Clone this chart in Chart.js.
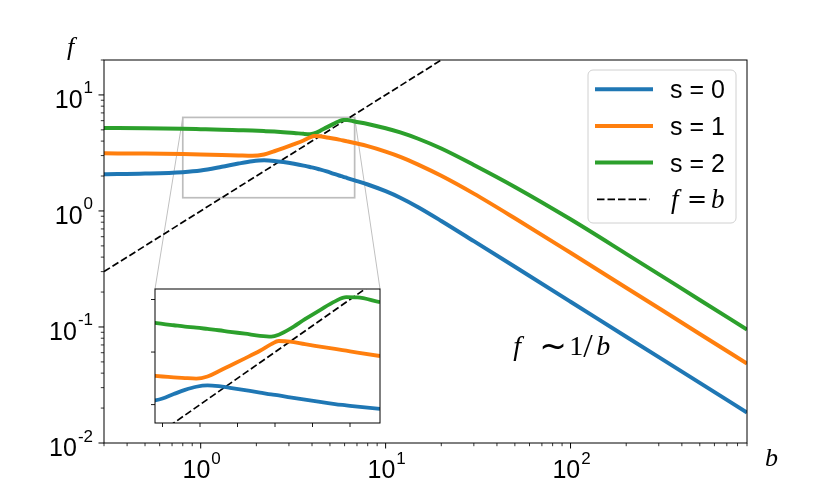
<!DOCTYPE html>
<html>
<head>
<meta charset="utf-8">
<script src="https://cdn.jsdelivr.net/npm/chart.js@4/dist/chart.umd.min.js"></script>
<style>
  html, body { margin: 0; padding: 0; background: #fff; }
  #wrap { position: relative; width: 830px; height: 498px; overflow: hidden; }
  #main { position: absolute; left: 0; top: 0; }
  #inset { position: absolute; left: 140px; top: 280px; }
</style>
</head>
<body>
<div id="wrap">
  <canvas id="main" width="830" height="498"></canvas>
  <canvas id="inset" width="250" height="155"></canvas>
</div>
<script>
// ---- data ----
const bValues = [0.3, 0.5, 0.8, 1.0, 1.3, 1.6, 1.9, 2.2, 2.5, 2.8, 3.2, 3.6, 3.9, 4.1, 4.4, 4.8,
                 5.2, 5.6, 5.9, 6.2, 6.8, 8, 10, 12, 15, 20, 30, 50, 100, 200, 500, 900];
const fS0 = [2.07, 2.10, 2.16, 2.23, 2.40, 2.56, 2.68, 2.73, 2.70, 2.64, 2.55, 2.46, 2.39, 2.35, 2.28, 2.19,
             2.10, 2.02, 1.97, 1.92, 1.835, 1.69, 1.48, 1.30, 1.077, 0.82, 0.549, 0.33, 0.165, 0.0824, 0.033, 0.0183];
const fS1 = [3.14, 3.12, 3.09, 3.07, 3.04, 3.01, 2.99, 3.07, 3.27, 3.48, 3.76, 4.05, 4.30, 4.42, 4.40, 4.30,
             4.21, 4.12, 4.05, 3.98, 3.85, 3.62, 3.25, 2.93, 2.51, 2.01, 1.41, 0.865, 0.436, 0.218, 0.0871, 0.0484];
const fS2 = [5.18, 5.16, 5.11, 5.07, 5.02, 4.97, 4.93, 4.88, 4.83, 4.77, 4.70, 4.62, 4.59, 4.66, 4.88, 5.25,
             5.60, 5.93, 6.09, 6.08, 5.90, 5.62, 5.16, 4.75, 4.19, 3.45, 2.49, 1.61, 0.847, 0.427, 0.171, 0.095];
const bDiag = [0.3, 20];          // f = b reference line
const seriesLabels = ['s = 0', 's = 1', 's = 2'];
const seriesColors = ['#1f77b4', '#ff7f0e', '#2ca02c'];

const xRange = [0.3, 900];
const yRange = [0.01, 20];
const xMajorTicks = [1, 10, 100];
const xMajorLabels = [['10', '0'], ['10', '1'], ['10', '2']];
const xMinorTicks = [0.3, 0.4, 0.5, 0.6, 0.7, 0.8, 0.9, 2, 3, 4, 5, 6, 7, 8, 9,
                     20, 30, 40, 50, 60, 70, 80, 90, 200, 300, 400, 500, 600, 700, 800, 900];
const yMajorTicks = [0.01, 0.1, 1, 10];
const yMajorLabels = [['10', '-2'], ['10', '-1'], ['10', '0'], ['10', '1']];
const yMinorTicks = [0.02, 0.03, 0.04, 0.05, 0.06, 0.07, 0.08, 0.09, 0.2, 0.3, 0.4, 0.5, 0.6, 0.7, 0.8, 0.9,
                     2, 3, 4, 5, 6, 7, 8, 9, 20];

// zoomed window
const insetXRange = [0.8, 6.8];
const insetYRange = [1.3, 6.4];
const insetXTicks = [1, 2, 3, 4, 5, 6];
const insetYTicks = [2, 4, 6];

const SANS = '"Liberation Sans", Arial, sans-serif';
const SERIF = '"Liberation Serif", "DejaVu Serif", serif';
const SYM = '"DejaVu Sans", sans-serif';
const INSET_BOX = { left: 155, top: 289, width: 225, height: 134 };

const pts = (ys) => bValues.map((b, i) => ({ x: b, y: ys[i] }));
const diagPts = bDiag.map(b => ({ x: b, y: b }));

function makeDatasets(lw) {
    const curves = [fS0, fS1, fS2].map((ys, i) => ({
        label: seriesLabels[i],
        data: pts(ys),
        borderColor: seriesColors[i],
        borderWidth: lw,
        pointRadius: 0,
        cubicInterpolationMode: 'monotone',
        fill: false,
        clip: 0
    }));
    curves.push({
        label: 'f = b',
        data: diagPts,
        borderColor: '#000',
        borderWidth: 1.7,
        borderDash: [7, 3],
        pointRadius: 0,
        fill: false,
        clip: 0
    });
    return curves;
}

function drawTick(ctx, x0, y0, x1, y1, w) {
    ctx.lineWidth = w;
    ctx.beginPath();
    ctx.moveTo(x0, y0);
    ctx.lineTo(x1, y1);
    ctx.stroke();
}

// "10" with a raised exponent; align = 'center' or 'right'
function drawPower(ctx, base, exp, x, baseline, align) {
    ctx.font = '25px ' + SANS;
    const wb = ctx.measureText(base).width;
    ctx.font = '17px ' + SANS;
    const we = ctx.measureText(exp).width;
    const total = wb + we + 1;
    const start = align === 'center' ? x - total / 2 : x - total;
    ctx.textAlign = 'left';
    ctx.textBaseline = 'alphabetic';
    ctx.font = '25px ' + SANS;
    ctx.fillText(base, start, baseline);
    ctx.font = '17px ' + SANS;
    ctx.fillText(exp, start + wb + 1, baseline - 14.5);
}

function italic(ctx, s, x, y, size) {
    ctx.font = 'italic ' + size + 'px ' + SERIF;
    ctx.fillText(s, x, y);
}
function upright(ctx, s, x, y, size, family) {
    ctx.font = size + 'px ' + (family || SERIF);
    ctx.fillText(s, x, y);
}

const mainDecor = {
    id: 'mainDecor',
    beforeDatasetsDraw(chart) {
        const { ctx, scales: { x, y } } = chart;
        const x0 = x.getPixelForValue(insetXRange[0]);
        const x1 = x.getPixelForValue(insetXRange[1]);
        const y0 = y.getPixelForValue(insetYRange[1]);
        const y1 = y.getPixelForValue(insetYRange[0]);
        ctx.save();
        ctx.strokeStyle = '#c0c0c0';
        ctx.lineWidth = 1;
        ctx.beginPath();
        ctx.moveTo(x0, y0);
        ctx.lineTo(INSET_BOX.left, INSET_BOX.top);
        ctx.moveTo(x1, y0);
        ctx.lineTo(INSET_BOX.left + INSET_BOX.width, INSET_BOX.top);
        ctx.stroke();
        ctx.lineWidth = 1.7;
        ctx.strokeStyle = '#bdbdbd';
        ctx.strokeRect(x0, y0, x1 - x0, y1 - y0);
        ctx.restore();
    },
    afterDraw(chart) {
        const { ctx, chartArea: a, scales: { x, y } } = chart;
        ctx.save();
        ctx.strokeStyle = '#000';
        ctx.fillStyle = '#000';
        ctx.lineWidth = 1;
        ctx.strokeRect(a.left, a.top, a.right - a.left, a.bottom - a.top);

        xMajorTicks.forEach((v, i) => {
            const px = x.getPixelForValue(v);
            drawTick(ctx, px, a.bottom, px, a.bottom + 5.5, 1);
            drawPower(ctx, xMajorLabels[i][0], xMajorLabels[i][1], px + 1, a.bottom + 35, 'center');
        });
        xMinorTicks.forEach(v => {
            const px = x.getPixelForValue(v);
            drawTick(ctx, px, a.bottom, px, a.bottom + 3.2, 0.8);
        });
        yMajorTicks.forEach((v, i) => {
            const py = y.getPixelForValue(v);
            drawTick(ctx, a.left - 5.5, py, a.left, py, 1);
            drawPower(ctx, yMajorLabels[i][0], yMajorLabels[i][1], a.left - 11, py + 13, 'right');
        });
        yMinorTicks.forEach(v => {
            const py = y.getPixelForValue(v);
            drawTick(ctx, a.left - 3.2, py, a.left, py, 0.8);
        });

        // axis labels
        ctx.textAlign = 'left';
        ctx.textBaseline = 'alphabetic';
        italic(ctx, 'f', 67, 55, 26);
        italic(ctx, 'b', 765, 466, 26);

        // asymptote note, anchored in data space
        const nx = x.getPixelForValue(49);
        const ny = y.getPixelForValue(0.057);
        italic(ctx, 'f', nx, ny, 28);
        upright(ctx, '~', nx + 26, ny + 2, 33, SYM);
        upright(ctx, '1', nx + 56, ny, 28);
        upright(ctx, '/', nx + 70, ny + 2, 34);
        italic(ctx, 'b', nx + 83, ny, 28);

        // legend
        const lx = a.right - 159, ly = a.top + 10, lw = 148, lh = 153;
        ctx.beginPath();
        ctx.roundRect(lx, ly, lw, lh, 5);
        ctx.fillStyle = 'rgba(255,255,255,0.85)';
        ctx.fill();
        ctx.strokeStyle = '#d0d0d0';
        ctx.lineWidth = 1;
        ctx.stroke();
        const rowY = [19.3, 56, 92.6, 129.3];
        ctx.fillStyle = '#000';
        seriesLabels.forEach((lab, i) => {
            const ry = ly + rowY[i];
            ctx.strokeStyle = seriesColors[i];
            drawTick(ctx, lx + 7, ry, lx + 65, ry, 4);
            ctx.font = '25px ' + SANS;
            ctx.fillText(lab, lx + 82, ry + 9);
        });
        const ry = ly + rowY[3];
        ctx.strokeStyle = '#000';
        ctx.setLineDash([7.5, 3]);
        drawTick(ctx, lx + 9, ry, lx + 62, ry, 1.7);
        ctx.setLineDash([]);
        italic(ctx, 'f', lx + 83, ry + 9, 27);
        upright(ctx, '=', lx + 99, ry + 8, 24, SYM);
        italic(ctx, 'b', lx + 123, ry + 9, 27);
        ctx.restore();
    }
};

const insetDecor = {
    id: 'insetDecor',
    beforeDraw(chart) {
        const { ctx, chartArea: a } = chart;
        ctx.save();
        ctx.fillStyle = '#fff';
        ctx.fillRect(a.left, a.top, a.right - a.left, a.bottom - a.top);
        ctx.restore();
    },
    afterDraw(chart) {
        const { ctx, chartArea: a, scales: { x, y } } = chart;
        ctx.save();
        ctx.strokeStyle = '#000';
        ctx.lineWidth = 1;
        ctx.strokeRect(a.left, a.top, a.right - a.left, a.bottom - a.top);
        insetXTicks.forEach(v => {
            const px = x.getPixelForValue(v);
            drawTick(ctx, px, a.bottom, px, a.bottom + 4, 0.9);
        });
        insetYTicks.forEach(v => {
            const py = y.getPixelForValue(v);
            drawTick(ctx, a.left - 4, py, a.left, py, 0.9);
        });
        ctx.restore();
    }
};

new Chart(document.getElementById('main'), {
    type: 'line',
    data: { datasets: makeDatasets(4) },
    options: {
        responsive: false,
        animation: false,
        devicePixelRatio: 1,
        layout: { padding: { left: 104, top: 60, right: 83, bottom: 55 } },
        plugins: { legend: { display: false }, tooltip: { enabled: false } },
        scales: {
            x: { type: 'logarithmic', min: xRange[0], max: xRange[1], display: false },
            y: { type: 'logarithmic', min: yRange[0], max: yRange[1], display: false }
        }
    },
    plugins: [mainDecor]
});

new Chart(document.getElementById('inset'), {
    type: 'line',
    data: { datasets: makeDatasets(3.8) },
    options: {
        responsive: false,
        animation: false,
        devicePixelRatio: 1,
        layout: { padding: { left: 15, top: 9, right: 10, bottom: 12 } },
        plugins: { legend: { display: false }, tooltip: { enabled: false } },
        scales: {
            x: { type: 'linear', min: insetXRange[0], max: insetXRange[1], display: false },
            y: { type: 'linear', min: insetYRange[0], max: insetYRange[1], display: false }
        }
    },
    plugins: [insetDecor]
});
</script>
</body>
</html>
